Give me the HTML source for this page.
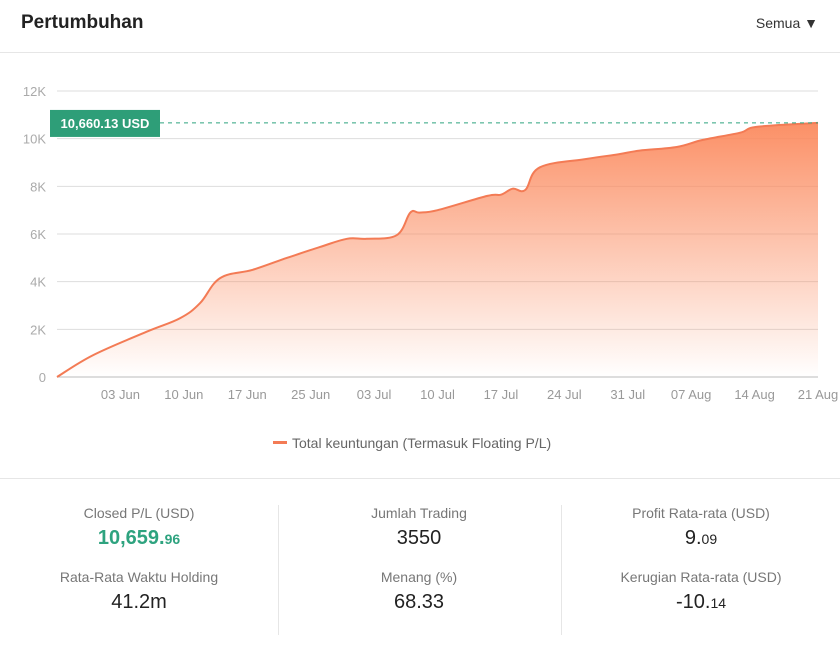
<!DOCTYPE html>
<html><head><meta charset="utf-8"><style>
body{margin:0;width:840px;height:649px;background:#fff;font-family:"Liberation Sans",sans-serif;overflow:hidden;position:relative}
.hdr{position:absolute;left:0;top:0;width:840px;height:52px;border-bottom:1px solid #e6e6e6}
.title{position:absolute;left:21px;top:12px;font-size:19px;font-weight:bold;color:#222}
.sel{position:absolute;right:22px;top:15px;font-size:14px;color:#333}
.stats{position:absolute;left:0;top:478px;width:840px;height:171px;border-top:1px solid #e6e6e6}
.col{position:absolute;top:26px;width:278px;text-align:center}
.lab{font-size:14px;color:#777;height:22px}
.val{font-size:20px;color:#222;height:42px}
.val small{font-size:14px}
.div{position:absolute;top:26px;width:1px;height:130px;background:#e6e6e6}
</style></head><body>
<div class="hdr">
<div class="title">Pertumbuhan</div>
<div class="sel">Semua &#9660;</div>
</div>
<svg id="chart" width="840" height="470" style="position:absolute;left:0;top:0">
<defs><linearGradient id="g" x1="0" y1="0" x2="0" y2="1"><stop offset="0" stop-color="#fb8a5e" stop-opacity="0.95"/><stop offset="1" stop-color="#fb8a5e" stop-opacity="0"/></linearGradient></defs>
</svg>
<div class="stats">
<div class="col" style="left:0">
<div class="lab">Closed P/L (USD)</div><div class="val" style="color:#2ea37f;font-weight:bold">10,659.<small>96</small></div>
<div class="lab">Rata-Rata Waktu Holding</div><div class="val">41.2m</div></div>
<div class="div" style="left:278px"></div>
<div class="col" style="left:280px">
<div class="lab">Jumlah Trading</div><div class="val">3550</div>
<div class="lab">Menang (%)</div><div class="val">68.33</div></div>
<div class="div" style="left:561px"></div>
<div class="col" style="left:562px">
<div class="lab">Profit Rata-rata (USD)</div><div class="val">9.<small>09</small></div>
<div class="lab">Kerugian Rata-rata (USD)</div><div class="val">-10.<small>14</small></div></div>
</div>
<script>
const xIdx=[0,4,9.9,13.6,15.8,18,21.6,25.4,29,32,34.2,37.5,39,40,42,47.5,49,50.3,51.7,53.3,58.5,62,64.3,68.4,71.3,75.4,77.3,84];
const values=[0,920,1900,2470,3100,4150,4500,5000,5450,5800,5800,5950,6900,6900,7000,7600,7650,7900,7850,8800,9150,9350,9500,9650,9950,10250,10500,10660];
const yTicks=[0,2000,4000,6000,8000,10000,12000];
const yTickLabels=["0","2K","4K","6K","8K","10K","12K"];
const xTickIdx=[7,14,21,28,35,42,49,56,63,70,77,84];
const xTickLabels=["03 Jun","10 Jun","17 Jun","25 Jun","03 Jul","10 Jul","17 Jul","24 Jul","31 Jul","07 Aug","14 Aug","21 Aug"];
const lastValue=10660.13;
const svg=document.getElementById('chart'),NS='http://www.w3.org/2000/svg';
const X=i=>57+i*(818-57)/84, Y=v=>377-v*(377-91)/12000;
function mk(t,a,txt){const e=document.createElementNS(NS,t);for(const k in a)e.setAttribute(k,a[k]);if(txt!=null)e.textContent=txt;svg.appendChild(e);return e;}
yTicks.forEach((v,i)=>{const g=mk('line',{x1:57,x2:818,y1:Y(v),y2:Y(v),stroke:v?'#ddd':'#bbb','stroke-width':1});

const t=mk('text',{x:46,y:Y(v)+5,'text-anchor':'end','font-size':13,fill:'#aaa'},yTickLabels[i]);
});
xTickIdx.forEach((d,i)=>{const t=mk('text',{x:X(d),y:399,'text-anchor':'middle','font-size':13,fill:'#999'},xTickLabels[i]);
});
const pts=xIdx.map((d,i)=>[X(d),Y(values[i])]);
let p='M'+pts[0][0].toFixed(1)+','+pts[0][1].toFixed(1);
for(let i=0;i<pts.length-1;i++){const p0=pts[Math.max(0,i-1)],p1=pts[i],p2=pts[i+1],p3=pts[Math.min(pts.length-1,i+2)];const k=0.18;
const c1=[p1[0]+(p2[0]-p0[0])*k,p1[1]+(p2[1]-p0[1])*k],c2=[p2[0]-(p3[0]-p1[0])*k,p2[1]-(p3[1]-p1[1])*k];
p+='C'+c1[0].toFixed(1)+','+c1[1].toFixed(1)+' '+c2[0].toFixed(1)+','+c2[1].toFixed(1)+' '+p2[0].toFixed(1)+','+p2[1].toFixed(1);}
const area=mk('path',{d:p+'L'+X(xIdx[xIdx.length-1])+','+Y(0)+'L'+X(0)+','+Y(0)+'Z',fill:'url(#g)'});

const line=mk('path',{d:p,fill:'none',stroke:'#f37b55','stroke-width':2,'stroke-linejoin':'round'});

const dl=mk('line',{x1:160,x2:818,y1:Y(lastValue),y2:Y(lastValue),stroke:'#2ea37f','stroke-dasharray':'4,4','stroke-width':1});

const bx=mk('rect',{x:50,y:Y(lastValue)-13,width:110,height:27,fill:'#2e9e78'});

const bt=mk('text',{x:105,y:Y(lastValue)+5,'text-anchor':'middle','font-size':13,'font-weight':'bold',fill:'#fff'},lastValue.toLocaleString('en-US',{minimumFractionDigits:2})+' USD');

const lg=mk('rect',{x:273,y:441,width:14,height:3,fill:'#f37b55'});

const lt=mk('text',{x:292,y:448,'font-size':14,fill:'#666'},'Total keuntungan (Termasuk Floating P/L)');

</script>
</body></html>
